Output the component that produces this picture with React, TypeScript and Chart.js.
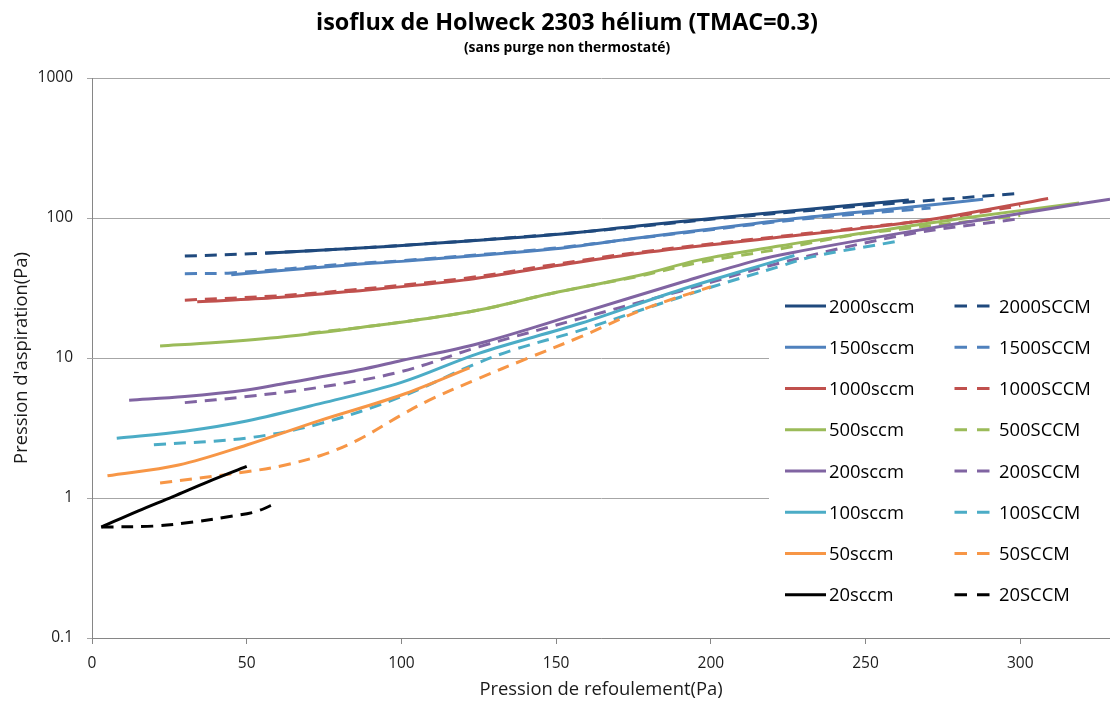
import React, { useEffect, useRef } from 'react';
import { Chart, registerables } from 'chart.js';

Chart.register(...registerables);

const titleText = 'isoflux de Holweck 2303 hélium (TMAC=0.3)';
const subtitleText = '(sans purge non thermostaté)';
const xAxisTitle = 'Pression de refoulement(Pa)';
const yAxisTitle = "Pression d'aspiration(Pa)";
const xTicks = [0, 50, 100, 150, 200, 250, 300];
const yTicks = [0.1, 1, 10, 100, 1000];

const flows = ['2000', '1500', '1000', '500', '200', '100', '50', '20'];
const flowColors = ['#1F497D', '#4F81BD', '#C0504D', '#9BBB59', '#8064A2', '#4BACC6', '#F79646', '#000000'];

const x2000sccm = [56, 94, 148, 177, 202, 230, 264];
const y2000sccm = [56, 62.4, 75.7, 88, 100, 114.6, 134.6];
const x2000SCCM = [30, 51, 94, 148, 177, 202, 264, 300];
const y2000SCCM = [53.5, 55.5, 62.5, 76, 87, 99, 130, 150];

const x1500sccm = [45, 83, 100, 148, 177, 200, 229, 260, 288];
const y1500sccm = [39.3, 46.2, 49, 59.7, 72.3, 83.4, 100, 117, 136];
const x1500SCCM = [30, 45, 83, 100, 148, 177, 200, 229, 271];
const y1500SCCM = [40, 40.5, 47, 49.5, 60.5, 72, 82.5, 98, 118];

const x1000sccm = [34, 60, 83, 120, 148, 177, 220, 250, 274, 309];
const y1000sccm = [25.2, 27, 29.8, 36, 44.9, 56, 72, 85, 100, 138];
const x1000SCCM = [30, 60, 83, 120, 148, 177, 220, 250, 274, 300];
const y1000SCCM = [25.9, 27.8, 30.5, 37, 46, 57, 73, 86, 99, 122.5];

const x500sccm = [22, 40, 62, 93, 105, 125, 148, 177, 196, 222, 250, 282, 319];
const y500sccm = [12.2, 12.9, 14.2, 17.2, 18.7, 22, 28.8, 39, 50, 63, 78.5, 100, 128];
const x500SCCM = [70, 93, 125, 148, 177, 196, 222, 246, 263, 300];
const y500SCCM = [15, 17.2, 22, 28.8, 38.5, 48, 60, 75.7, 84, 104];

const x200sccm = [12, 30, 50, 62.5, 86, 100, 125, 158, 190, 215, 227, 260, 291, 313, 329];
const y200sccm = [5.0, 5.3, 5.9, 6.6, 8.2, 9.6, 12.7, 21, 34.5, 50, 57, 77, 100, 120, 136];
const x200SCCM = [30, 50, 74, 100, 125, 158, 190, 222, 263, 300];
const y200SCCM = [4.8, 5.3, 6.2, 8.0, 12, 19.2, 30, 47.5, 76, 99];

const x100sccm = [8, 30, 50, 74, 100, 125, 158, 190, 222, 227];
const y100sccm = [2.67, 3.0, 3.55, 4.74, 6.7, 10.8, 17.7, 30.6, 50, 54];
const x100SCCM = [20, 50, 74, 100, 123, 136, 158, 179, 200, 222, 233, 260];
const y100SCCM = [2.4, 2.68, 3.41, 5.3, 8.9, 11.4, 15.8, 22.6, 32, 44.9, 53, 68];

const x50sccm = [5, 28, 50, 74, 100, 122];
const y50sccm = [1.44, 1.72, 2.39, 3.6, 5.44, 8.5];
const x50SCCM = [22, 50, 62.5, 75, 86, 100, 109, 124, 141, 158, 179, 200];
const y50SCCM = [1.28, 1.54, 1.72, 2.05, 2.6, 3.92, 5.0, 7.0, 10, 14.2, 22.6, 32.3];

const x20sccm = [3, 15, 26, 38, 50];
const y20sccm = [0.62, 0.81, 1.02, 1.32, 1.68];
const x20SCCM = [3, 20, 32, 45, 53, 60];
const y20SCCM = [0.62, 0.63, 0.67, 0.74, 0.8, 0.93];

const solidXs = [x2000sccm, x1500sccm, x1000sccm, x500sccm, x200sccm, x100sccm, x50sccm, x20sccm];
const solidYs = [y2000sccm, y1500sccm, y1000sccm, y500sccm, y200sccm, y100sccm, y50sccm, y20sccm];
const dashXs = [x2000SCCM, x1500SCCM, x1000SCCM, x500SCCM, x200SCCM, x100SCCM, x50SCCM, x20SCCM];
const dashYs = [y2000SCCM, y1500SCCM, y1000SCCM, y500SCCM, y200SCCM, y100SCCM, y50SCCM, y20SCCM];

const FONT = "'Open Sans', sans-serif";
const DASH = [12, 8];

const titlePlugin = {
  id: 'titles',
  afterDraw(chart: any) {
    const ctx = chart.ctx;
    ctx.save();
    ctx.fillStyle = '#000';
    ctx.textAlign = 'center';
    ctx.textBaseline = 'alphabetic';
    ctx.font = `bold 23.4px ${FONT}`;
    ctx.fillText(titleText, 567, 29.5);
    ctx.font = `bold 13.9px ${FONT}`;
    ctx.fillText(subtitleText, 567, 52);
    ctx.restore();
  },
};

const legendPlugin = {
  id: 'boxLegend',
  afterDraw(chart: any) {
    const ctx = chart.ctx;
    const ds = chart.data.datasets;
    ctx.save();
    ctx.fillStyle = '#fff';
    ctx.fillRect(769, 282, 341, 336);
    ctx.font = `18.4px ${FONT}`;
    ctx.textBaseline = 'alphabetic';
    ctx.textAlign = 'left';
    for (let r = 0; r < flows.length; r++) {
      const y = 306 + r * 41.25;
      for (let c = 0; c < 2; c++) {
        const d = ds[r * 2 + c];
        ctx.strokeStyle = d.borderColor;
        ctx.lineWidth = 3;
        ctx.setLineDash(c === 0 ? [] : [12.5, 10]);
        ctx.beginPath();
        if (c === 0) {
          ctx.moveTo(785, y);
          ctx.lineTo(826, y);
        } else {
          ctx.moveTo(954.5, y);
          ctx.lineTo(990, y);
        }
        ctx.stroke();
        ctx.setLineDash([]);
        ctx.fillStyle = '#000';
        ctx.fillText(d.label, c === 0 ? 829 : 999, y + 6.5);
      }
    }
    ctx.restore();
  },
};

export default function App() {
  const ref = useRef<HTMLCanvasElement>(null);
  useEffect(() => {
    document.body.style.margin = '0';
    const datasets: any[] = [];
    flows.forEach((f, i) => {
      datasets.push({
        label: f + 'sccm',
        data: solidXs[i].map((x, j) => ({ x, y: solidYs[i][j] })),
        borderColor: flowColors[i],
        borderWidth: 3,
        borderDash: [],
      });
      datasets.push({
        label: f + 'SCCM',
        data: dashXs[i].map((x, j) => ({ x, y: dashYs[i][j] })),
        borderColor: flowColors[i],
        borderWidth: 3,
        borderDash: DASH,
      });
    });
    datasets.forEach((d, k) => {
      d.showLine = true;
      d.pointRadius = 0;
      d.fill = false;
      d.tension = 0.35;
      d.order = datasets.length - k;
    });
    const chart = new Chart(ref.current as HTMLCanvasElement, {
      type: 'scatter',
      data: { datasets },
      options: {
        animation: false,
        responsive: true,
        maintainAspectRatio: false,
        layout: { padding: { top: 78, right: 0, left: 0, bottom: 0 } },
        plugins: { legend: { display: false }, tooltip: { enabled: false }, title: { display: false } },
        scales: {
          x: {
            type: 'linear',
            min: 0,
            max: 329,
            afterBuildTicks: (s: any) => { s.ticks = xTicks.map((v) => ({ value: v })); },
            afterFit: (s: any) => { s.height = 64; },
            ticks: { font: { family: FONT, size: 15.5 }, color: '#1a1a1a', padding: 10, maxRotation: 0 },
            grid: { drawOnChartArea: false, tickLength: 6, color: '#868686' },
            border: { color: '#868686' },
            title: { display: true, text: xAxisTitle, font: { family: FONT, size: 18.4 }, color: '#1a1a1a', padding: { bottom: 1, top: 0 } },
          },
          y: {
            type: 'logarithmic',
            min: 0.1,
            max: 1000,
            afterBuildTicks: (s: any) => { s.ticks = yTicks.map((v) => ({ value: v })); },
            afterFit: (s: any) => { s.width = 92; },
            ticks: { font: { family: FONT, size: 15.5 }, color: '#1a1a1a', padding: 14, callback: (v: any) => String(v) },
            grid: { color: '#A6A6A6', tickLength: 5 },
            border: { color: '#868686' },
            title: { display: true, text: yAxisTitle, font: { family: FONT, size: 18.4 }, color: '#1a1a1a', padding: { top: 11, bottom: 0 } },
          },
        },
      },
      plugins: [legendPlugin, titlePlugin],
    } as any);
    return () => chart.destroy();
  }, []);
  return (
    <div style={{ width: 1110, height: 702, position: 'relative' }}>
      <canvas ref={ref} />
    </div>
  );
}
